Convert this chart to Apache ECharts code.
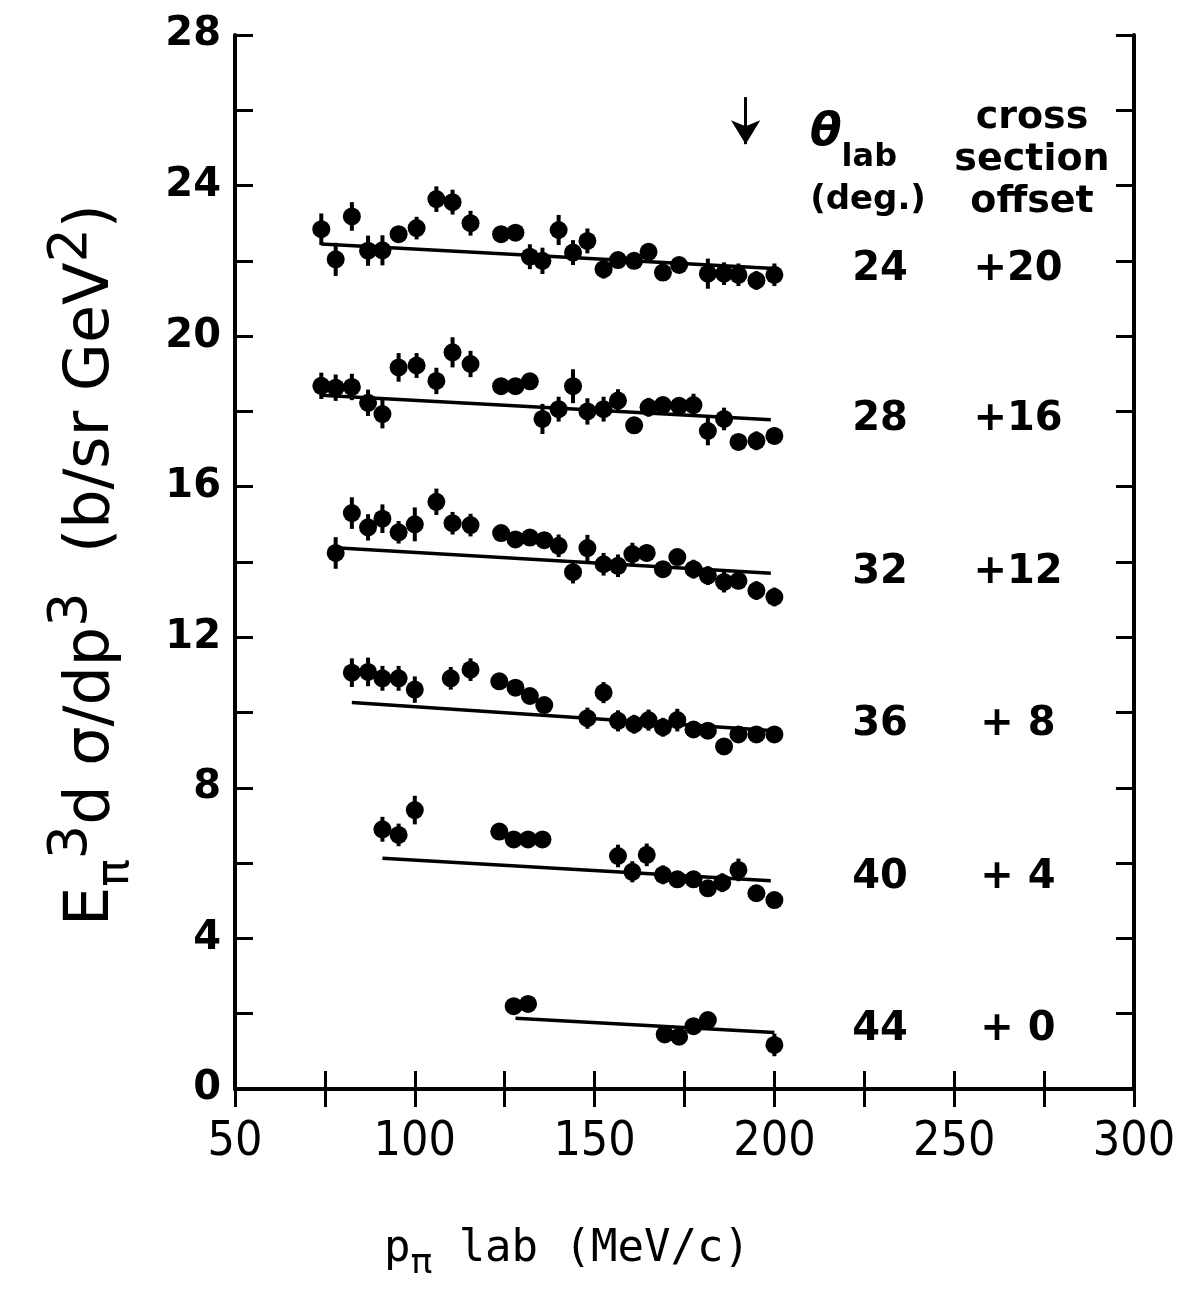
<!DOCTYPE html>
<html>
<head>
<meta charset="utf-8">
<script src="https://cdn.jsdelivr.net/npm/echarts@6/dist/echarts.min.js"></script>
<style>
  html, body { margin: 0; padding: 0; background: #fff; }
  #chart { width: 1189px; height: 1291px; }
</style>
</head>
<body>
<div id="chart"></div>
<script>
// pion momentum (MeV/c), cross section with offset, error, per lab angle
var p24 = [74, 78, 82.5, 87, 91, 95.5, 100.5, 106, 110.5, 115.5, 124, 128, 132, 135.5, 140, 144, 148, 152.5, 156.5, 161, 165, 169, 173.5, 181.5, 186, 190, 195, 200];
var v24 = [22.84, 22.04, 23.18, 22.27, 22.28, 22.71, 22.87, 23.64, 23.56, 23.0, 22.71, 22.75, 22.11, 22.0, 22.82, 22.22, 22.53, 21.78, 22.02, 22.0, 22.24, 21.69, 21.89, 21.66, 21.66, 21.63, 21.48, 21.63];
var e24 = [0.42, 0.44, 0.38, 0.4, 0.4, 0.2, 0.3, 0.34, 0.33, 0.33, 0.18, 0.18, 0.33, 0.35, 0.4, 0.33, 0.33, 0.25, 0.2, 0.18, 0.18, 0.2, 0.2, 0.4, 0.3, 0.3, 0.25, 0.3];

var p28 = [74, 78, 82.5, 87, 91, 95.5, 100.5, 106, 110.5, 115.5, 124, 128, 132, 135.5, 140, 144, 148, 152.5, 156.5, 161, 165, 169, 173.5, 177.5, 181.5, 186, 190, 195, 200];
var v28 = [18.68, 18.63, 18.65, 18.23, 17.93, 19.17, 19.22, 18.81, 19.57, 19.26, 18.67, 18.67, 18.8, 17.8, 18.06, 18.67, 18.0, 18.06, 18.29, 17.63, 18.11, 18.17, 18.15, 18.17, 17.48, 17.8, 17.19, 17.22, 17.35];
var e28 = [0.35, 0.35, 0.35, 0.35, 0.38, 0.38, 0.33, 0.35, 0.4, 0.35, 0.18, 0.18, 0.18, 0.4, 0.33, 0.45, 0.35, 0.33, 0.3, 0.2, 0.25, 0.2, 0.2, 0.3, 0.38, 0.3, 0.2, 0.25, 0.22];

var p32 = [78, 82.5, 87, 91, 95.5, 100, 106, 110.5, 115.5, 124, 128, 132, 136, 140, 144, 148, 152.5, 156.5, 160.5, 164.5, 169, 173, 177.5, 181.5, 186, 190, 195, 200];
var v32 = [14.24, 15.3, 14.92, 15.15, 14.79, 15.0, 15.6, 15.03, 14.98, 14.77, 14.6, 14.65, 14.58, 14.43, 13.73, 14.37, 13.94, 13.9, 14.21, 14.24, 13.81, 14.13, 13.81, 13.64, 13.47, 13.5, 13.24, 13.07];
var e32 = [0.42, 0.42, 0.35, 0.38, 0.3, 0.45, 0.35, 0.3, 0.3, 0.2, 0.2, 0.2, 0.2, 0.3, 0.3, 0.35, 0.3, 0.3, 0.3, 0.22, 0.2, 0.22, 0.25, 0.25, 0.28, 0.22, 0.25, 0.25];

var p36 = [82.5, 87, 91, 95.5, 100, 110, 115.5, 123.5, 128, 132, 136, 148, 152.5, 156.5, 161, 165, 169, 173, 177.5, 181.5, 186, 190, 195, 200];
var v36 = [11.06, 11.08, 10.91, 10.91, 10.61, 10.91, 11.14, 10.83, 10.66, 10.44, 10.2, 9.85, 10.53, 9.78, 9.69, 9.8, 9.61, 9.8, 9.55, 9.52, 9.1, 9.42, 9.42, 9.42];
var e36 = [0.38, 0.38, 0.33, 0.33, 0.35, 0.3, 0.3, 0.2, 0.2, 0.2, 0.2, 0.28, 0.28, 0.28, 0.25, 0.28, 0.25, 0.3, 0.2, 0.2, 0.18, 0.2, 0.2, 0.22];

var p40 = [91, 95.5, 100, 123.5, 127.5, 131.5, 135.5, 156.5, 160.5, 164.5, 169, 173, 177.5, 181.5, 185.5, 190, 195, 200];
var v40 = [6.9, 6.75, 7.41, 6.84, 6.63, 6.63, 6.63, 6.19, 5.77, 6.22, 5.69, 5.57, 5.57, 5.33, 5.48, 5.82, 5.2, 5.02];
var e40 = [0.33, 0.3, 0.38, 0.2, 0.18, 0.18, 0.18, 0.3, 0.28, 0.3, 0.25, 0.2, 0.2, 0.18, 0.25, 0.3, 0.2, 0.2];

var p44 = [127.5, 131.5, 169.5, 173.5, 177.5, 181.5, 200];
var v44 = [2.2, 2.26, 1.45, 1.39, 1.67, 1.83, 1.17];
var e44 = [0.18, 0.18, 0.2, 0.2, 0.18, 0.18, 0.3];

// fitted lines (end points)
var fit24 = [[74, 22.45], [200, 21.8]];
var fit28 = [[74, 18.43], [199, 17.78]];
var fit32 = [[79, 14.37], [199, 13.7]];
var fit36 = [[82.5, 10.27], [200, 9.52]];
var fit40 = [[91, 6.13], [199, 5.53]];
var fit44 = [[128, 1.88], [200, 1.5]];

var arrowFrom = [192, 26.35];
var arrowTo = [192, 25.1];

var angles = ['24', '28', '32', '36', '40', '44'];
var offsets = ['+20', '+16', '+12', '+ 8', '+ 4', '+ 0'];

var sets = [
  [p24, v24, e24, fit24],
  [p28, v28, e28, fit28],
  [p32, v32, e32, fit32],
  [p36, v36, e36, fit36],
  [p40, v40, e40, fit40],
  [p44, v44, e44, fit44]
];

var chart = echarts.init(document.getElementById('chart'));

function zip(a, b, c) {
  var out = [];
  for (var i = 0; i < a.length; i++) {
    out.push(c ? [a[i], b[i], c[i]] : [a[i], b[i]]);
  }
  return out;
}

function errItem(params, api) {
  var x = api.value(0), y = api.value(1), e = api.value(2);
  var lo = api.coord([x, y - e]);
  var hi = api.coord([x, y + e]);
  return {
    type: 'line',
    shape: { x1: lo[0], y1: lo[1], x2: hi[0], y2: hi[1] },
    style: { stroke: '#000', lineWidth: 4 }
  };
}

var series = [];
sets.forEach(function(s) {
  series.push({
    type: 'custom',
    renderItem: errItem,
    data: zip(s[0], s[1], s[2]),
    silent: true,
    z: 3
  });
  series.push({
    type: 'scatter',
    data: zip(s[0], s[1]),
    symbol: 'circle',
    symbolSize: 18,
    itemStyle: { color: '#000', opacity: 1 },
    z: 4
  });
  series.push({
    type: 'line',
    data: s[3],
    showSymbol: false,
    lineStyle: { color: '#000', width: 3.5 },
    z: 2
  });
});

series.push({
  type: 'line',
  data: [],
  markLine: {
    silent: true,
    symbol: ['none', 'arrow'],
    symbolSize: [22, 24],
    label: { show: false },
    lineStyle: { color: '#000', width: 3, type: 'solid' },
    data: [[{ coord: arrowFrom }, { coord: arrowTo }]]
  }
});

var graphics = [];
var rowY = [270, 420, 573, 725, 878, 1030];
angles.forEach(function(a, i) {
  graphics.push({
    type: 'text', x: 880, y: rowY[i],
    style: { text: a, font: 'bold 40px "DejaVu Sans"', fill: '#000', align: 'center', verticalAlign: 'middle' }
  });
  graphics.push({
    type: 'text', x: 1018, y: rowY[i],
    style: { text: offsets[i], font: 'bold 40px "DejaVu Sans"', fill: '#000', align: 'center', verticalAlign: 'middle' }
  });
});

graphics.push({
  type: 'text', x: 810, y: 142,
  style: {
    text: '{t|θ}{s|lab}',
    align: 'left', verticalAlign: 'middle', fill: '#000',
    rich: {
      t: { font: 'italic bold 46px "DejaVu Sans"', lineHeight: 64, verticalAlign: 'top' },
      s: { font: 'bold 32px "DejaVu Sans"', lineHeight: 36, verticalAlign: 'bottom' }
    }
  }
});
graphics.push({
  type: 'text', x: 868, y: 200,
  style: { text: '(deg.)', font: 'bold 34px "DejaVu Sans"', fill: '#000', align: 'center', verticalAlign: 'middle' }
});
graphics.push({
  type: 'text', x: 1032, y: 160,
  style: {
    text: 'cross\nsection\noffset', font: 'bold 38px "DejaVu Sans"', fill: '#000',
    align: 'center', verticalAlign: 'middle', lineHeight: 42
  }
});

// y axis title
graphics.push({
  type: 'text', x: 92, y: 565, rotation: Math.PI / 2,
  style: {
    text: '{m|E}{sub|π}{sup|3}{m|d σ/dp}{sup|3}{m|  (b/sr GeV}{sup|2}{m|)}',
    align: 'center', verticalAlign: 'middle', fill: '#000',
    rich: {
      m: { font: '62px "DejaVu Sans"', lineHeight: 94, verticalAlign: 'middle' },
      sup: { font: '54px "DejaVu Sans"', lineHeight: 52, verticalAlign: 'top' },
      sub: { font: '46px "DejaVu Sans"', lineHeight: 46, verticalAlign: 'bottom' }
    }
  }
});
// x axis title
graphics.push({
  type: 'text', x: 567, y: 1250,
  style: {
    text: '{m|p}{sub|π}{m| lab (MeV/c)}',
    align: 'center', verticalAlign: 'middle', fill: '#000',
    rich: {
      m: { font: '44px "DejaVu Sans Mono"', lineHeight: 64, verticalAlign: 'middle' },
      sub: { font: '36px "DejaVu Sans Mono"', lineHeight: 36, verticalAlign: 'bottom' }
    }
  }
});

var axisLine = { show: true, lineStyle: { color: '#000', width: 4 } };
var axisTick = { show: true, inside: true, length: 18, lineStyle: { color: '#000', width: 3 } };

chart.setOption({
  backgroundColor: '#fff',
  animation: false,
  grid: { left: 235, top: 35, right: 55, bottom: 202, show: false },
  xAxis: [
    {
      type: 'value', min: 50, max: 300, interval: 25, position: 'bottom',
      axisLine: axisLine, axisTick: axisTick, splitLine: { show: false },
      axisLabel: {
        margin: 30, fontSize: 48, fontFamily: 'DejaVu Sans Condensed', color: '#000',
        formatter: function(v) { return v % 50 === 0 ? String(v) : ''; }
      }
    },
    {
      type: 'value', min: 50, max: 300, interval: 25, position: 'top',
      axisLine: axisLine, axisTick: axisTick, splitLine: { show: false },
      axisLabel: { show: false }
    }
  ],
  yAxis: [
    {
      type: 'value', min: 0, max: 28, interval: 2, position: 'left',
      axisLine: axisLine, axisTick: axisTick, splitLine: { show: false },
      axisLabel: {
        margin: 14, fontSize: 40, fontFamily: 'DejaVu Sans', fontWeight: 'bold', color: '#000',
        formatter: function(v) { return v % 4 === 0 ? String(v) : ''; }
      }
    },
    {
      type: 'value', min: 0, max: 28, interval: 2, position: 'right',
      axisLine: axisLine, axisTick: axisTick, splitLine: { show: false },
      axisLabel: { show: false }
    }
  ],
  series: series,
  graphic: graphics
});
</script>
</body>
</html>
